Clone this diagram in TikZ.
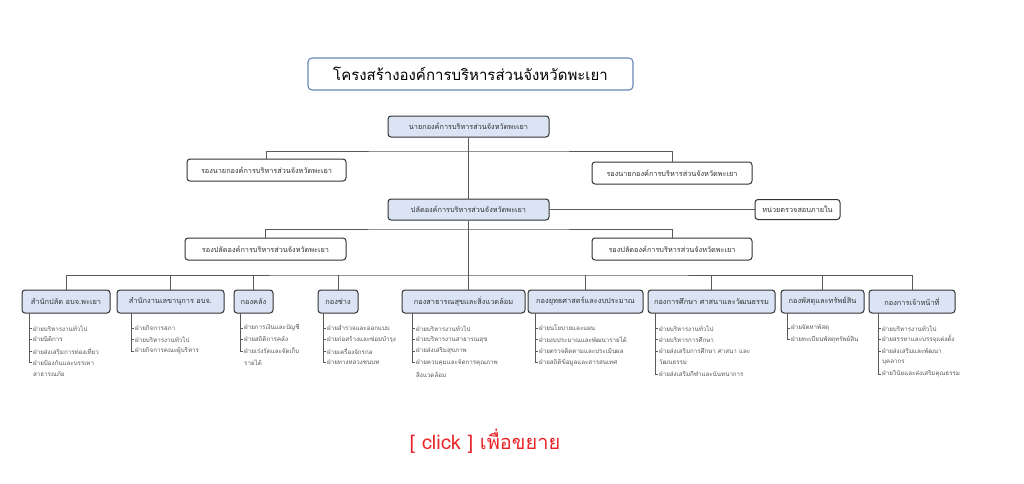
\documentclass[tikz,border=0pt]{standalone}
\usepackage{fontspec}
\setmainfont[Script=Thai]{Loma}
\definecolor{boxfill}{HTML}{DAE4F5}
\definecolor{boxline}{HTML}{333333}
\definecolor{conn}{HTML}{5A5A5A}
\definecolor{itemtxt}{HTML}{555555}
\definecolor{titleline}{HTML}{6A86B8}
\definecolor{clickred}{HTML}{E8262A}
\tikzset{
  base/.style={draw=boxline, line width=1pt, rounded corners=3pt, inner sep=0pt, font=\fontsize{7.3}{9}\selectfont, text=black!80},
  bluebox/.style={base, fill=boxfill},
  whitebox/.style={base, fill=white},
  dept/.style={bluebox, minimum height=23pt, font=\fontsize{7.4}{9}\selectfont},
  conline/.style={draw=conn, line width=0.7pt},
  item/.style={anchor=west, inner sep=0pt, text=itemtxt, font=\fontsize{6.2}{7}\selectfont},
}
\newcommand{\sublist}[3]{%
  \foreach \i/\t in {#3} {
    \pgfmathsetmacro{\yy}{316.5+11.5*\i}
    \draw[conline, line width=0.5pt] (#2,\yy) -- (#2+3,\yy);
    \node[item] at (#2+4,\yy) {\t};
    \xdef\lasty{\yy}
  }
  \draw[conline, line width=0.5pt] (#2,#1) -- (#2,\lasty);
}
\begin{document}
\begin{tikzpicture}[x=1pt,y=-1pt]
\useasboundingbox (0,0) rectangle (1024,483);
\fill[white] (0,0) rectangle (1024,483);
% title
\node[draw=titleline, line width=1.1pt, rounded corners=4pt, fill=white, minimum width=325pt, minimum height=32pt, font=\fontsize{15}{18}\selectfont] (title) at (470.5,74) {โครงสร้างองค์การบริหารส่วนจังหวัดพะเยา};
% top levels
\node[bluebox, minimum width=161pt, minimum height=21pt] (top) at (468.5,126.5) {นายกองค์การบริหารส่วนจังหวัดพะเยา};
\node[whitebox, minimum width=159pt, minimum height=22pt] (vl) at (266.5,170) {รองนายกองค์การบริหารส่วนจังหวัดพะเยา};
\node[whitebox, minimum width=160pt, minimum height=22pt] (vr) at (672,173) {รองนายกองค์การบริหารส่วนจังหวัดพะเยา};
\node[bluebox, minimum width=161pt, minimum height=21pt] (pl) at (468.5,209.5) {ปลัดองค์การบริหารส่วนจังหวัดพะเยา};
\node[whitebox, minimum width=85pt, minimum height=20pt] (audit) at (797.5,209.5) {หน่วยตรวจสอบภายใน};
\node[whitebox, minimum width=161pt, minimum height=22pt] (dl) at (265.5,249) {รองปลัดองค์การบริหารส่วนจังหวัดพะเยา};
\node[whitebox, minimum width=160pt, minimum height=22pt] (dr) at (672,249) {รองปลัดองค์การบริหารส่วนจังหวัดพะเยา};
% departments
\node[dept, minimum width=88pt] (d1) at (66,301.5) {สำนักปลัด อบจ.พะเยา};
\node[dept, minimum width=107pt] (d2) at (170.5,301.5) {สำนักงานเลขานุการ อบจ.};
\node[dept, minimum width=39pt] (d3) at (253.5,301.5) {กองคลัง};
\node[dept, minimum width=40pt] (d4) at (338,301.5) {กองช่าง};
\node[dept, minimum width=123pt] (d5) at (463.5,301.5) {กองสาธารณสุขและสิ่งแวดล้อม};
\node[dept, minimum width=115pt] (d6) at (585.5,301.5) {กองยุทธศาสตร์และงบประมาณ};
\node[dept, minimum width=127pt] (d7) at (711.5,301.5) {กองการศึกษา ศาสนาและวัฒนธรรม};
\node[dept, minimum width=83pt] (d8) at (822.5,301.5) {กองพัสดุและทรัพย์สิน};
\node[dept, minimum width=86pt] (d9) at (912,301.5) {กองการเจ้าหน้าที่};
% connectors
\coordinate (bA) at (468.5,151);
\coordinate (bB) at (468.5,229);
\coordinate (bC) at (468.5,275);
\draw[conline] (top.south) -- (pl.north);
\draw[conline] (vl.north) |- (bA) -| (vr.north);
\draw[conline] (pl.east) -- (audit.west);
\draw[conline] (dl.north) |- (bB) -| (dr.north);
\draw[conline] (pl.south) -- (pl.south |- d5.north);
\draw[conline] (d1.north) |- (bC) -| (d9.north);
\foreach \d in {d2,d3,d4,d6,d7,d8} \draw[conline] (\d.north) -- (\d.north |- bC);
% sub lists
\sublist{313}{29}{1/ฝ่ายบริหารงานทั่วไป,2/ฝ่ายนิติการ,3/ฝ่ายส่งเสริมการท่องเที่ยว,4/ฝ่ายป้องกันและบรรเทา}
\node[item] at (33,374) {สาธารณภัย};
\sublist{313}{131}{1/ฝ่ายกิจการสภา,2/ฝ่ายบริหารงานทั่วไป,3/ฝ่ายกิจการคณะผู้บริหาร}
\sublist{313}{240}{1/ฝ่ายการเงินและบัญชี,2/ฝ่ายสถิติการคลัง,3/ฝ่ายเร่งรัดและจัดเก็บ}
\node[item] at (244,362.5) {รายได้};
\sublist{313}{323}{1/ฝ่ายสำรวจและออกแบบ,2/ฝ่ายก่อสร้างและซ่อมบำรุง,3/ฝ่ายเครื่องจักรกล,4/ฝ่ายทางหลวงชนบท}
\sublist{313}{412}{1/ฝ่ายบริหารงานทั่วไป,2/ฝ่ายบริหารงานสาธารณสุข,3/ฝ่ายส่งเสริมสุขภาพ,4/ฝ่ายควบคุมและจัดการคุณภาพ}
\node[item] at (416,374) {สิ่งแวดล้อม};
\sublist{313}{535}{1/ฝ่ายนโยบายและแผน,2/ฝ่ายงบประมาณและพัฒนารายได้,3/ฝ่ายตรวจติดตามและประเมินผล,4/ฝ่ายสถิติข้อมูลและสารสนเทศ}
\sublist{313}{655}{1/ฝ่ายบริหารงานทั่วไป,2/ฝ่ายบริหารการศึกษา,3/ฝ่ายส่งเสริมการศึกษา ศาสนา และ,5/ฝ่ายส่งเสริมกีฬาและนันทนาการ}
\node[item] at (659,362.5) {วัฒนธรรม};
\sublist{313}{787}{1/ฝ่ายจัดหาพัสดุ,2/ฝ่ายทะเบียนพัสดุทรัพย์สิน}
\sublist{313}{878}{1/ฝ่ายบริหารงานทั่วไป,2/ฝ่ายสรรหาและบรรจุแต่งตั้ง,3/ฝ่ายส่งเสริมและพัฒนา,5/ฝ่ายวินัยและส่งเสริมคุณธรรม}
\node[item] at (882,362.5) {บุคลากร};
% click
\node[text=clickred, font=\fontsize{20}{22}\selectfont, inner sep=0pt] (click) at (485,441) {[ click ] เพื่อขยาย};
\end{tikzpicture}
\end{document}
